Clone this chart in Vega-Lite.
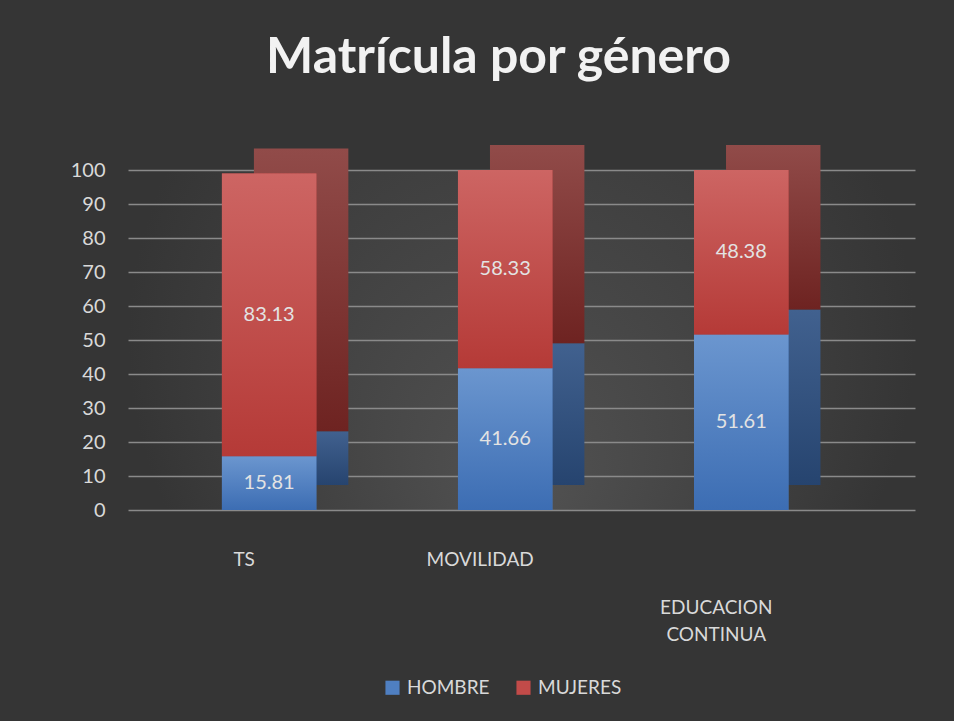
{
  "$schema": "https://vega.github.io/schema/vega-lite/v6.json",
  "autosize": "none",
  "width": 787,
  "height": 340,
  "padding": {"left": 128, "top": 170, "right": 39, "bottom": 211},
  "background": "#353535",
  "view": {"stroke": null, "fill": {"gradient": "radial", "x1": 0.5, "y1": 0.7, "r1": 0, "x2": 0.5, "y2": 0.5, "r2": 0.5, "stops": [{"offset": 0, "color": "#525252"}, {"offset": 1, "color": "#353535"}]}},
  "title": {
    "text": "Matrícula por género",
    "font": "Lato",
    "fontSize": 50,
    "fontWeight": "bold",
    "color": "#f2f2f2",
    "anchor": "middle",
    "dx": -23,
    "offset": 62
  },
  "config": {
    "font": "Lato",
    "axisY": {
      "tickCount": 10,
      "domain": false,
      "ticks": false,
      "grid": true,
      "gridColor": "#8a8a8a",
      "gridWidth": 1.5,
      "labelFontSize": 20,
      "labelColor": "#d9d9d9",
      "labelPadding": 23
    }
  },
  "data": {
    "values": [
      {"categoria": "TS", "serie": "HOMBRE", "valor": 15.81},
      {"categoria": "TS", "serie": "MUJERES", "valor": 83.13},
      {"categoria": "MOVILIDAD", "serie": "HOMBRE", "valor": 41.66},
      {"categoria": "MOVILIDAD", "serie": "MUJERES", "valor": 58.33},
      {"categoria": "EDUCACION CONTINUA", "serie": "HOMBRE", "valor": 51.61},
      {"categoria": "EDUCACION CONTINUA", "serie": "MUJERES", "valor": 48.38}
    ]
  },
  "encoding": {
    "x": {
      "field": "categoria",
      "type": "nominal",
      "sort": ["TS", "MOVILIDAD", "EDUCACION CONTINUA"],
      "scale": {"paddingInner": 0.6, "paddingOuter": 0.467, "align": 0.426},
      "axis": {
        "title": null,
        "domain": false,
        "ticks": false,
        "labelAngle": 0,
        "labelFontSize": 19,
        "labelColor": "#d9d9d9",
        "labelOffset": -25,
        "labelBaseline": "top",
        "labelLineHeight": 27,
        "labelPadding": {"condition": {"test": "datum.value === 'EDUCACION CONTINUA'", "value": 88}, "value": 40},
        "labelExpr": "datum.value === 'EDUCACION CONTINUA' ? ['EDUCACION', 'CONTINUA'] : datum.value"
      }
    },
    "y": {"field": "valor", "type": "quantitative", "stack": "zero", "title": null, "scale": {"domain": [0, 100]}},
    "order": {"field": "serie", "sort": "ascending"}
  },
  "layer": [
    {
      "mark": {"type": "bar", "xOffset": 32, "yOffset": -25},
      "encoding": {
        "detail": {"field": "serie"},
        "fill": {
          "condition": {"test": "datum.serie === 'HOMBRE'", "value": {"gradient": "linear", "x1": 0, "y1": 0, "x2": 0, "y2": 1, "stops": [{"offset": 0, "color": "#41618f"}, {"offset": 1, "color": "#26446f"}]}},
          "value": {"gradient": "linear", "x1": 0, "y1": 0, "x2": 0, "y2": 1, "stops": [{"offset": 0, "color": "#914b49"}, {"offset": 1, "color": "#6e2321"}]}
        }
      }
    },
    {
      "mark": {"type": "bar"},
      "encoding": {
        "color": {
          "field": "serie",
          "type": "nominal",
          "scale": {"domain": ["HOMBRE", "MUJERES"], "range": ["#4f7fc1", "#c24b49"]},
          "legend": {
            "title": null,
            "orient": "none",
            "direction": "horizontal",
            "legendX": 255,
            "legendY": 508,
            "symbolType": "square",
            "symbolSize": 200,
            "symbolStrokeWidth": 0,
            "labelFontSize": 19,
            "labelColor": "#d9d9d9",
            "labelOffset": 5,
            "columnPadding": 24
          }
        }
      }
    },
    {
      "mark": {"type": "bar"},
      "encoding": {
        "detail": {"field": "serie"},
        "fill": {
          "condition": {"test": "datum.serie === 'HOMBRE'", "value": {"gradient": "linear", "x1": 0, "y1": 0, "x2": 0, "y2": 1, "stops": [{"offset": 0, "color": "#6b96cf"}, {"offset": 1, "color": "#3c6db3"}]}},
          "value": {"gradient": "linear", "x1": 0, "y1": 0, "x2": 0, "y2": 1, "stops": [{"offset": 0, "color": "#cd6563"}, {"offset": 1, "color": "#b53a37"}]}
        }
      }
    },
    {
      "mark": {"type": "text", "fontSize": 20, "color": "#e3e3e3"},
      "encoding": {
        "y": {"field": "valor", "type": "quantitative", "stack": "zero", "bandPosition": 0.5, "title": null},
        "detail": {"field": "serie"},
        "text": {"field": "valor", "type": "quantitative", "format": ".2f"}
      }
    }
  ]
}
